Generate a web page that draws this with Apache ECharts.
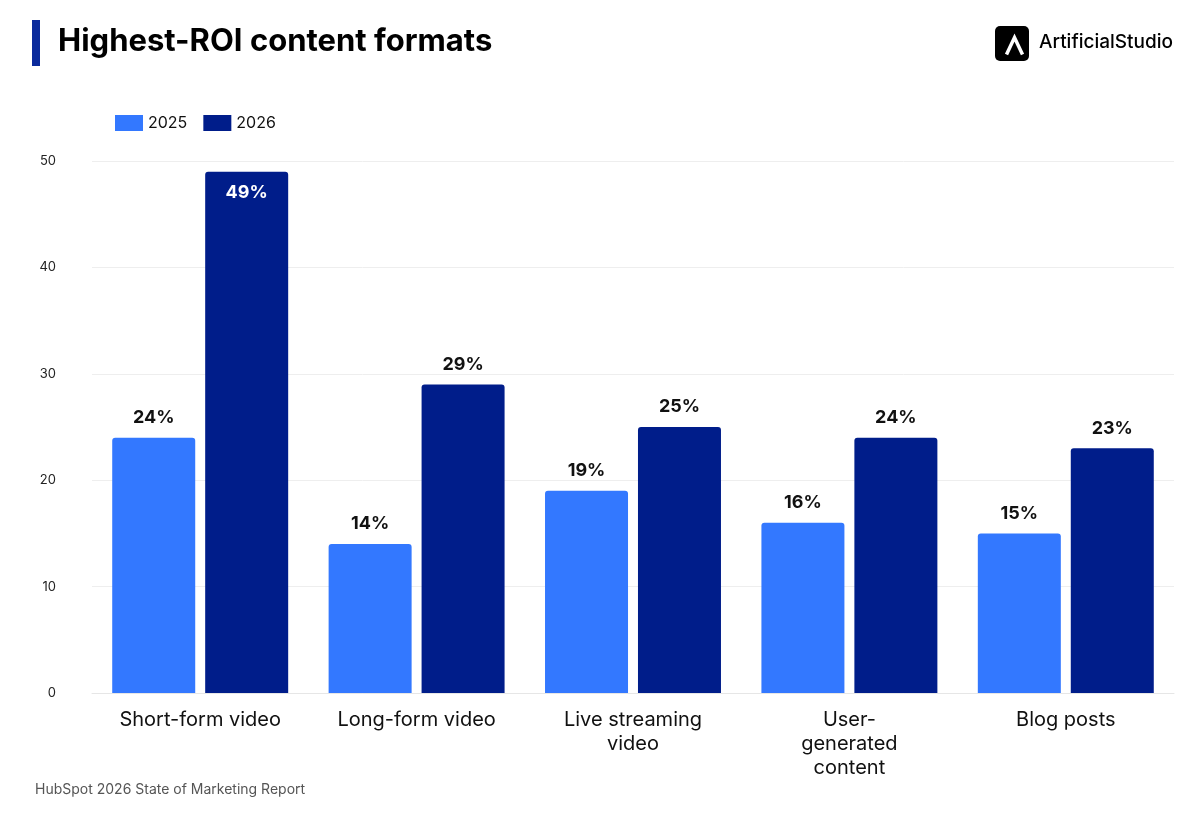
<!DOCTYPE html>
<html><head><meta charset="utf-8">
<script src="https://cdn.jsdelivr.net/npm/echarts@6/dist/echarts.min.js"></script>
<style>body{margin:0;background:#fff}#c{width:1198px;height:816px}</style>
</head><body><div id="c"></div>
<script>
var categories = ['Short-form video', 'Long-form video', 'Live streaming\nvideo', 'User-\ngenerated\ncontent', 'Blog posts'];
var values2025 = [24, 14, 19, 16, 15];
var values2026 = [49, 29, 25, 24, 23];
var yTicks = [0, 10, 20, 30, 40, 50];

var chart = echarts.init(document.getElementById('c'));
var font = 'Inter, "Noto Sans", sans-serif';
function labelled(vals, insideIdx) {
  return vals.map(function (v, i) {
    if (i === insideIdx) return { value: v, label: { position: 'insideTop', color: '#fff', distance: 12 } };
    return v;
  });
}
chart.setOption({
  textStyle: { fontFamily: font },
  graphic: [
    { type: 'rect', left: 32, top: 20, shape: { width: 8, height: 46 }, style: { fill: '#0a2a9c' } },
    { type: 'text', left: 58, top: 26, style: { text: 'Highest-ROI content formats', font: 'bold 31px ' + font, fill: '#000' } },
    { type: 'rect', left: 995, top: 26, shape: { width: 34, height: 35, r: 5 }, style: { fill: '#000' } },
    { type: 'polyline', left: 1004, top: 35, shape: { points: [[0, 17], [8, 0], [16, 17]] }, style: { stroke: '#fff', lineWidth: 3.5, fill: null } },
    { type: 'text', left: 1039, top: 33, style: { text: 'ArtificialStudio', font: '500 19px ' + font, fill: '#000' } },
    { type: 'text', left: 35, top: 783, style: { text: 'HubSpot 2026 State of Marketing Report', font: '14px ' + font, fill: '#555' } }
  ],
  legend: {
    left: 110, top: 110, itemWidth: 28, itemHeight: 16, itemGap: 16, icon: 'rect',
    textStyle: { fontSize: 16, color: '#111', fontFamily: font },
    data: ['2025', '2026']
  },
  grid: { left: 92, right: 24, top: 161, bottom: 123 },
  xAxis: {
    type: 'category', data: categories,
    axisLine: { lineStyle: { color: '#e6e6e6' } }, axisTick: { show: false },
    axisLabel: { fontSize: 20, color: '#111', margin: 15, lineHeight: 24, fontFamily: font }
  },
  yAxis: {
    type: 'value', min: 0, max: 50, interval: 10,
    axisLabel: { fontSize: 13, color: '#222', margin: 36, fontFamily: font },
    splitLine: { lineStyle: { color: '#eeeeee' } }
  },
  series: [
    { name: '2025', type: 'bar', data: labelled(values2025, -1), barWidth: 83, barGap: '12%',
      itemStyle: { color: '#3378ff', borderRadius: [3, 3, 0, 0] },
      label: { show: true, position: 'top', distance: 11, formatter: '{c}%', fontSize: 18, fontWeight: 'bold', color: '#111' } },
    { name: '2026', type: 'bar', data: labelled(values2026, 0), barWidth: 83,
      itemStyle: { color: '#001d8a', borderRadius: [3, 3, 0, 0] },
      label: { show: true, position: 'top', distance: 11, formatter: '{c}%', fontSize: 18, fontWeight: 'bold', color: '#111' } }
  ]
});
</script></body></html>
